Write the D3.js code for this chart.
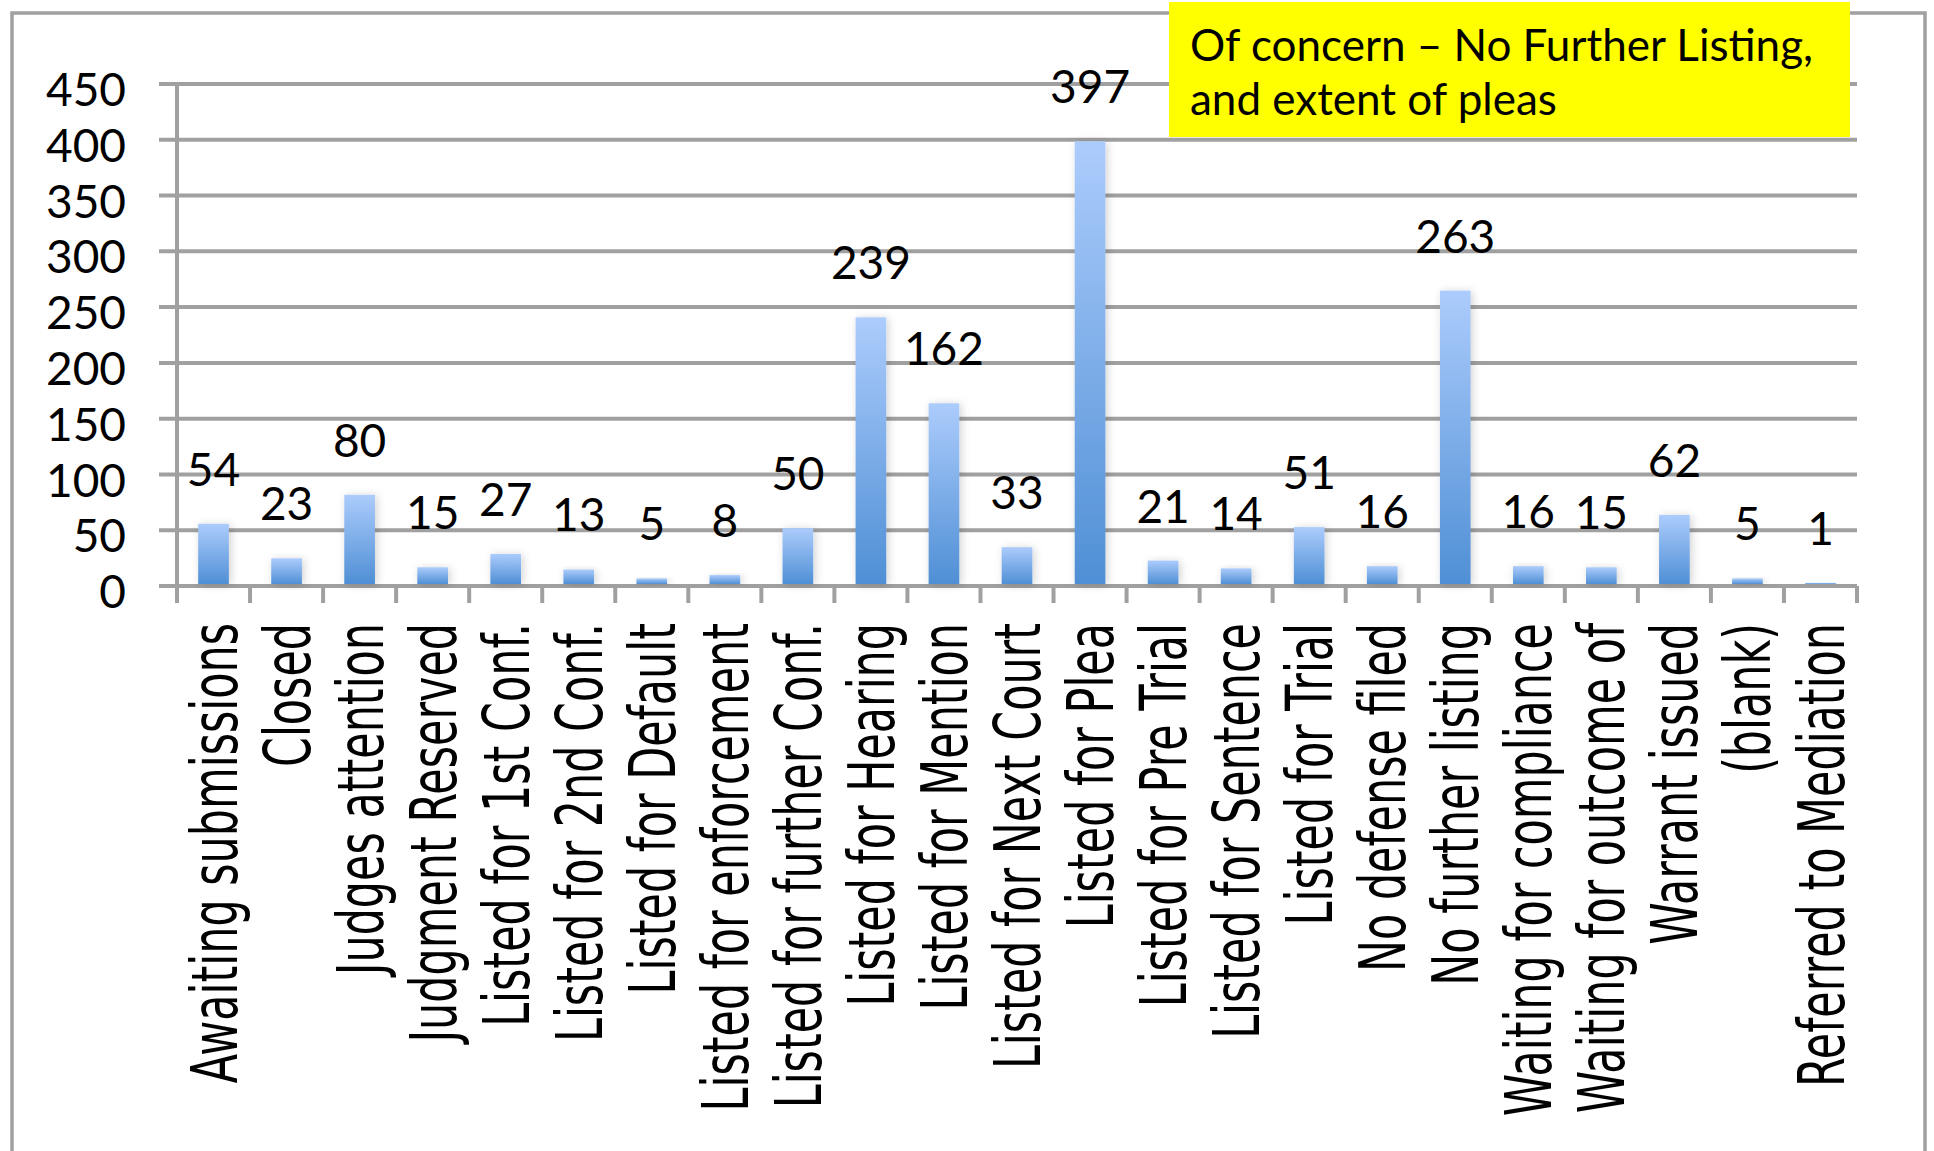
<!DOCTYPE html>
<html>
<head>
<meta charset="utf-8">
<script src="https://cdn.jsdelivr.net/npm/d3@7"></script>
<style>
  html, body { margin: 0; padding: 0; background: #fff; }
  svg { display: block; }
</style>
</head>
<body>
<svg id="chart" width="1934" height="1151"></svg>
<script>
const categories = [
  "Awaiting submissions", "Closed", "Judges attention", "Judgment Reserved",
  "Listed for 1st Conf.", "Listed for 2nd Conf.", "Listed for Default",
  "Listed for enforcement", "Listed for further Conf.", "Listed for Hearing",
  "Listed for Mention", "Listed for Next Court", "Listed for Plea",
  "Listed for Pre Trial", "Listed for Sentence", "Listed for Trial",
  "No defense filed", "No further listing", "Waiting for compliance",
  "Waiting for outcome of", "Warrant issued", "(blank)", "Referred to Mediation"
];
const values = [54, 23, 80, 15, 27, 13, 5, 8, 50, 239, 162, 33, 397, 21, 14, 51, 16, 263, 16, 15, 62, 5, 1];
const yTicks = [0, 50, 100, 150, 200, 250, 300, 350, 400, 450];
const titleLines = ["Of concern \u2013 No Further Listing,", "and extent of pleas"];

const svg = d3.select("#chart");
const W = 1934, H = 1151;
const left = 177, right = 1857, y0 = 586, yTop = 84;
const gridColor = "#a0a0a0";
const numFont = "Lato, 'Open Sans', sans-serif";

svg.append("rect").attr("width", W).attr("height", H).attr("fill", "#fff");

const defs = svg.append("defs");
const grad = defs.append("linearGradient").attr("id", "barGrad")
  .attr("x1", 0).attr("y1", 0).attr("x2", 0).attr("y2", 1);
grad.append("stop").attr("offset", "0%").attr("stop-color", "#acccfc");
grad.append("stop").attr("offset", "100%").attr("stop-color", "#4f8fd5");
const flt = defs.append("filter").attr("id", "shadow")
  .attr("x", "-50%").attr("y", "-20%").attr("width", "200%").attr("height", "140%");
flt.append("feDropShadow").attr("dx", 2).attr("dy", 1).attr("stdDeviation", 4)
  .attr("flood-color", "#000").attr("flood-opacity", 0.18);

// outer border
svg.append("rect").attr("x", 12).attr("y", 13).attr("width", 1913).attr("height", 1300)
  .attr("fill", "none").attr("stroke", gridColor).attr("stroke-width", 3.5);

const x = d3.scaleBand().domain(categories).range([left, right]).paddingInner(0).paddingOuter(0);
const y = d3.scaleLinear().domain([0, 450]).range([y0, yTop]);

// gridlines
svg.append("g").selectAll("line").data(yTicks).join("line")
  .attr("x1", 159).attr("x2", right)
  .attr("y1", d => y(d)).attr("y2", d => y(d))
  .attr("stroke", gridColor).attr("stroke-width", 4);

// y axis labels
const yAxis = d3.axisLeft(y).tickValues(yTicks).tickSize(0).tickPadding(51);
const gy = svg.append("g").attr("transform", `translate(${left},0)`).call(yAxis);
gy.select(".domain").remove();
gy.selectAll("text").attr("font-family", numFont).attr("font-size", 46)
  .attr("fill", "#000").attr("dy", "0.47em");

// y axis line
svg.append("line").attr("x1", left).attr("x2", left).attr("y1", y(450)).attr("y2", y0 + 17)
  .attr("stroke", gridColor).attr("stroke-width", 4);

// x ticks at band boundaries
const bounds = categories.map(c => x(c)).concat([x(categories[categories.length - 1]) + x.bandwidth()]);
svg.append("g").selectAll("line").data(bounds).join("line")
  .attr("x1", d => d).attr("x2", d => d).attr("y1", y0).attr("y2", y0 + 17)
  .attr("stroke", gridColor).attr("stroke-width", 4);

// x axis line
svg.append("line").attr("x1", 159).attr("x2", right).attr("y1", y0).attr("y2", y0)
  .attr("stroke", gridColor).attr("stroke-width", 4);

// bars (sitting on the top edge of the axis line)
const bw = x.bandwidth() * 0.42;
svg.append("g").selectAll("rect").data(values).join("rect")
  .attr("x", (d, i) => x(categories[i]) + (x.bandwidth() - bw) / 2)
  .attr("y", d => y(d) - 2).attr("width", bw).attr("height", d => y0 - y(d))
  .attr("fill", "url(#barGrad)").attr("filter", "url(#shadow)");

// value labels
svg.append("g").selectAll("text").data(values).join("text")
  .attr("x", (d, i) => x(categories[i]) + x.bandwidth() / 2)
  .attr("y", d => y(d) - 40)
  .attr("text-anchor", "middle").attr("font-family", numFont).attr("font-size", 46)
  .attr("fill", "#000").text(d => d);

// x category labels (rotated)
const labelFs = 64, squeeze = 0.67;
svg.append("g").selectAll("text").data(categories).join("text")
  .attr("transform", c => `translate(${x(c) + x.bandwidth() / 2 + 0.36 * labelFs},623) rotate(-90) scale(${squeeze},1)`)
  .attr("text-anchor", "end")
  .attr("font-family", "'DejaVu Sans', sans-serif").attr("font-size", labelFs)
  .attr("fill", "#000").text(c => c);

// yellow annotation box
svg.append("rect").attr("x", 1169).attr("y", 2).attr("width", 681).attr("height", 135)
  .attr("fill", "#ffff00");
svg.append("g").selectAll("text").data(titleLines).join("text")
  .attr("x", 1190).attr("y", (d, i) => 61 + i * 54)
  .attr("font-family", numFont).attr("font-size", 44).attr("fill", "#000")
  .text(d => d);
</script>
</body>
</html>
